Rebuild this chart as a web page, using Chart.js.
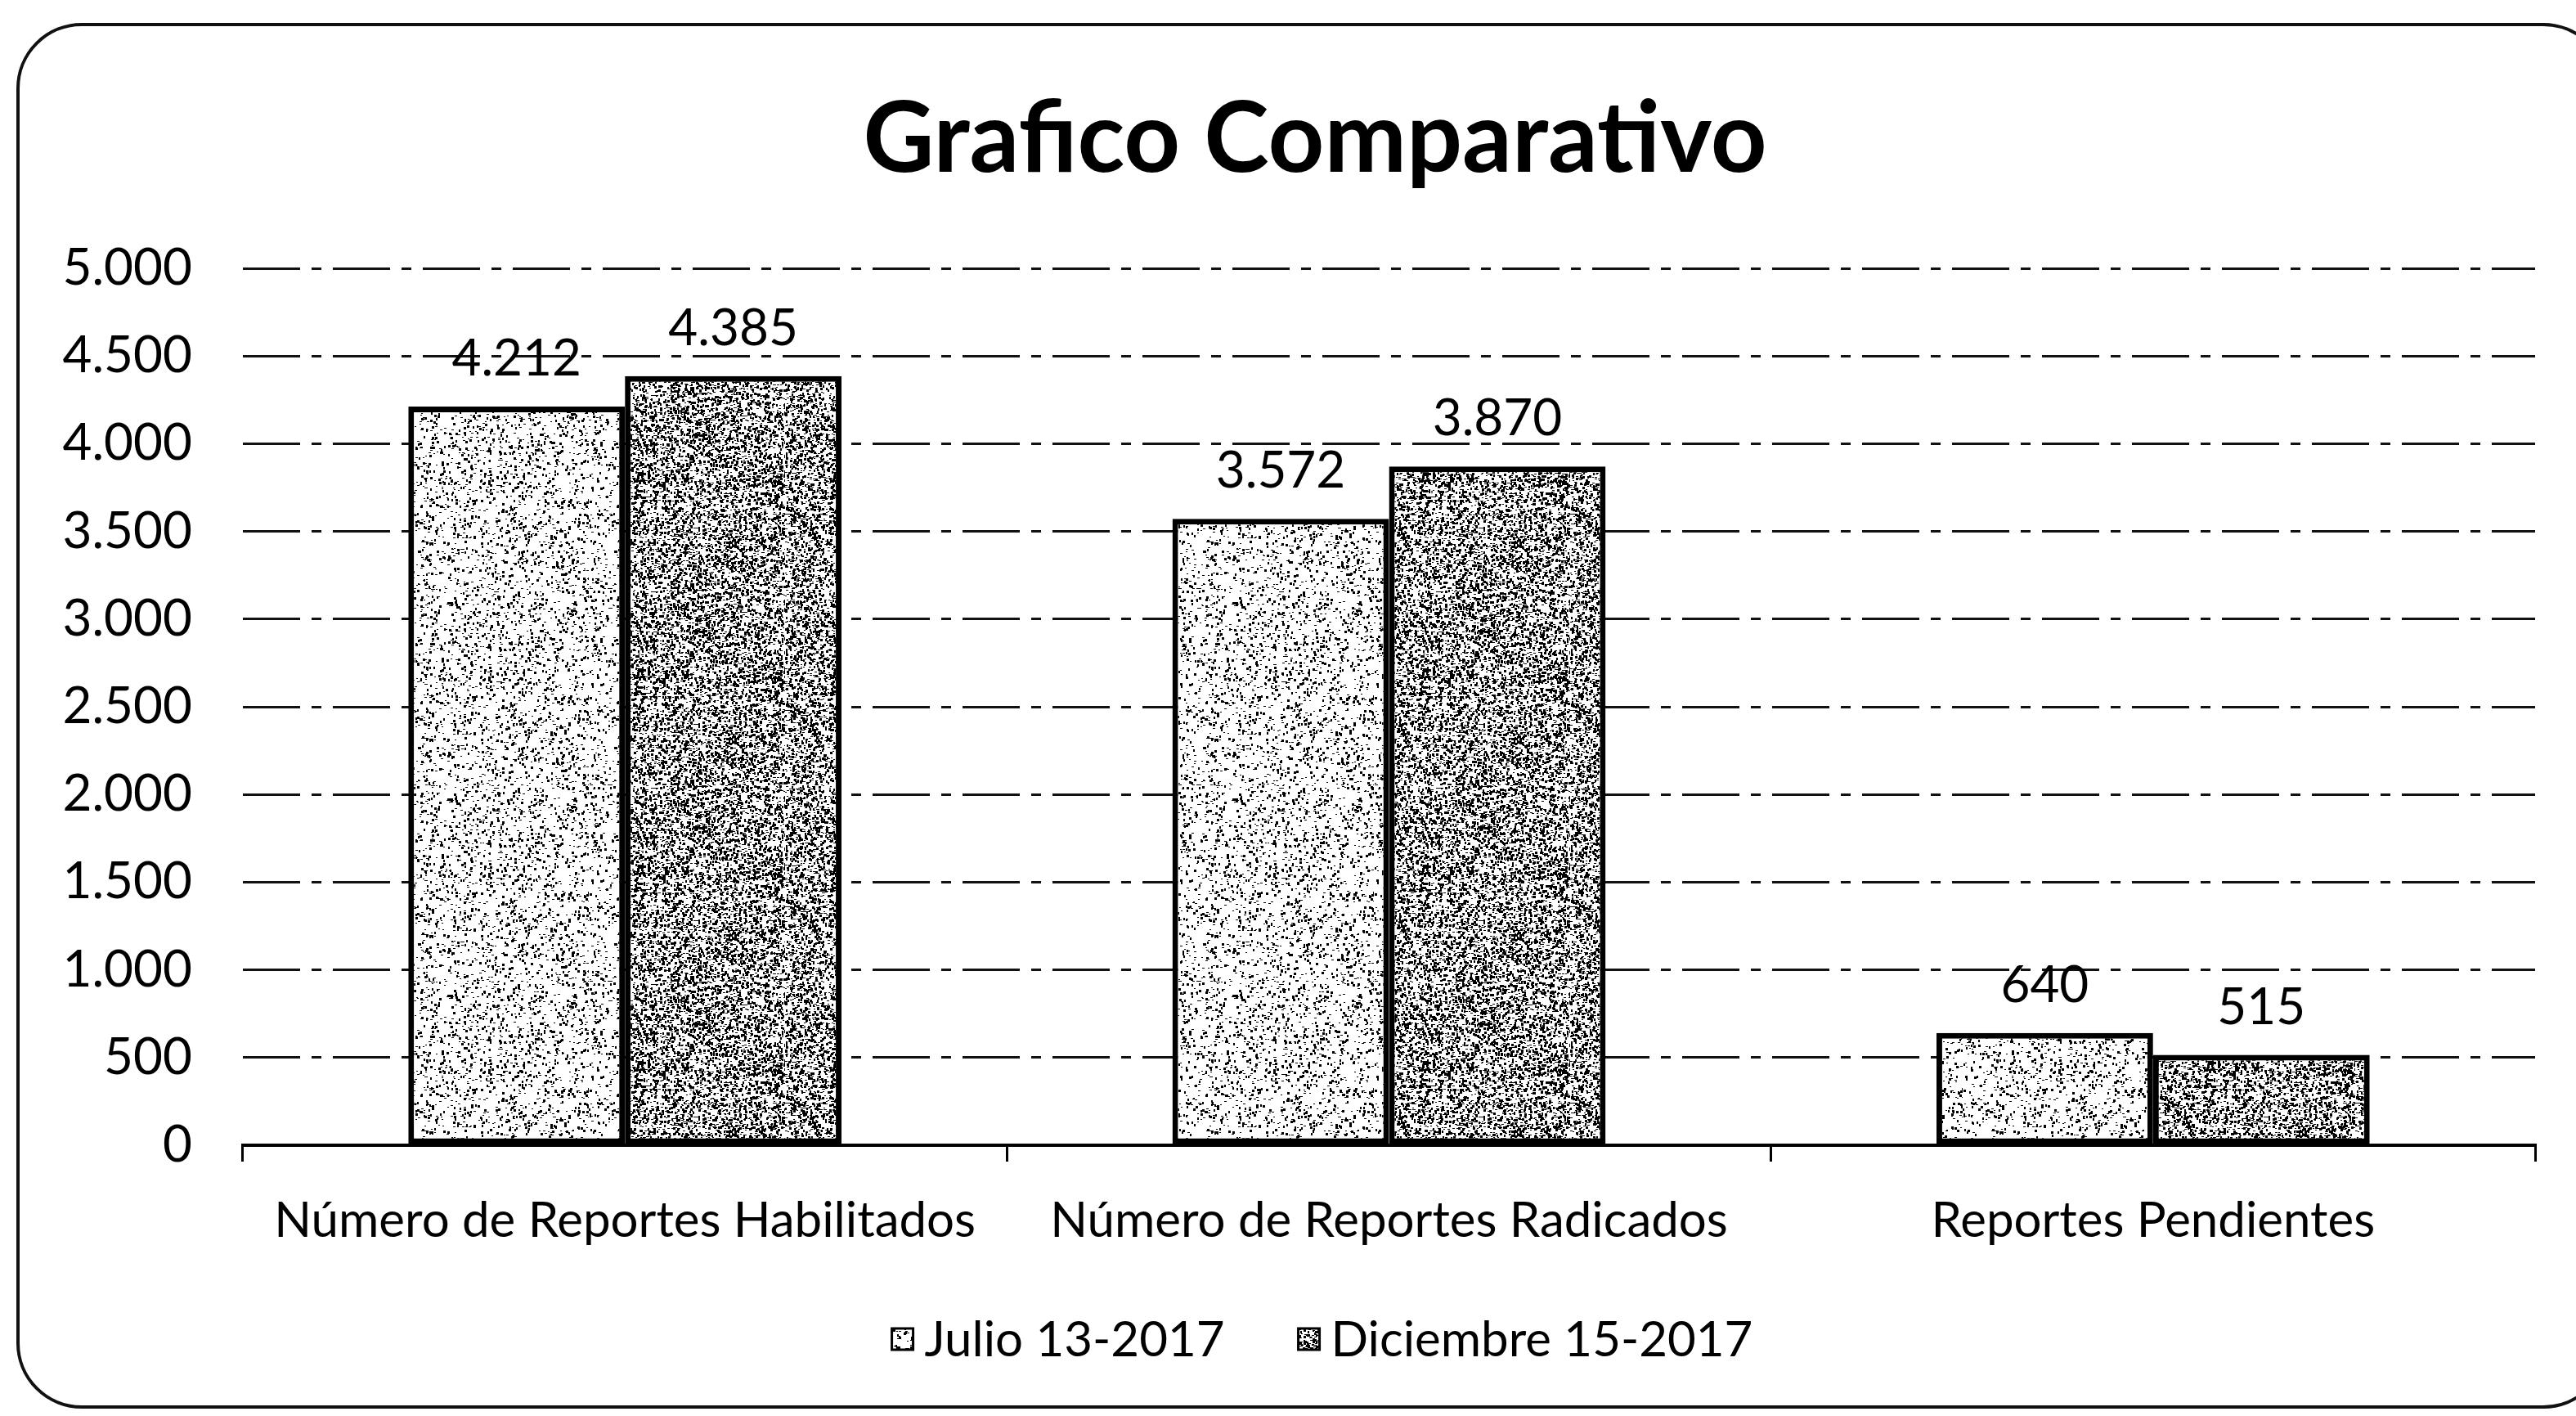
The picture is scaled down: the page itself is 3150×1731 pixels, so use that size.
<!DOCTYPE html>
<html>
<head>
<meta charset="utf-8">
<title>Grafico Comparativo</title>
<script src="https://cdn.jsdelivr.net/npm/chart.js@4.4.0/dist/chart.umd.min.js"></script>
<style>
  html, body { margin: 0; padding: 0; background: #fff; overflow: hidden; }
  #wrap { position: relative; width: 3150px; height: 1731px; }
  #frame {
    position: absolute; left: 20px; top: 28px; width: 3170px; height: 1694px;
    border: 4px solid #111; border-radius: 80px; box-sizing: border-box;
  }
  #chart { position: absolute; left: 0; top: 0; }
</style>
</head>
<body>
<div id="wrap">
  <div id="frame"></div>
  <canvas id="chart" width="3150" height="1731"></canvas>
</div>
<script>
// data
const categories = ['Número de Reportes Habilitados', 'Número de Reportes Radicados', 'Reportes Pendientes'];
const seriesNames = ['Julio 13-2017', 'Diciembre 15-2017'];
const julio = [4212, 3572, 640];
const diciembre = [4385, 3870, 515];
const yMin = 0, yMax = 5000, yStep = 500;
const chartTitle = 'Grafico Comparativo';

const FONT = 'Lato, "Open Sans", sans-serif';

// Spanish style thousands separator: 4212 -> 4.212
const fmt = n => String(n).replace(/\B(?=(\d{3})+(?!\d))/g, '.');

// stippled fill like the scanned bars (fixed seed, just a texture)
function stipple(density, seed) {
  const size = 240;
  const c = document.createElement('canvas');
  c.width = c.height = size;
  const g = c.getContext('2d');
  g.fillStyle = '#fff';
  g.fillRect(0, 0, size, size);
  g.fillStyle = '#000';
  let s = seed >>> 0;
  const rnd = () => (s = (Math.imul(s, 1664525) + 1013904223) >>> 0) / 4294967296;
  const n = Math.round(size * size * density / 5);
  for (let i = 0; i < n; i++) {
    const x = Math.floor(rnd() * size), y = Math.floor(rnd() * size);
    g.fillRect(x, y, rnd() < 0.5 ? 2 : 3, rnd() < 0.5 ? 1 : 3);
  }
  return g.createPattern(c, 'repeat');
}

const lightFill = stipple(0.16, 7);
const darkFill = stipple(0.5, 13);

// title and legend sit a bit right of the canvas centre in the original,
// so both are drawn by hand
const titlePlugin = {
  id: 'titlePlugin',
  afterDraw(chart) {
    const ctx = chart.ctx;
    ctx.save();
    ctx.font = 'bold 120px ' + FONT;
    ctx.fillStyle = '#000';
    ctx.textAlign = 'center';
    ctx.textBaseline = 'alphabetic';
    ctx.fillText(chartTitle, 1608, 210);
    ctx.restore();
  }
};

const legendPlugin = {
  id: 'legendPlugin',
  afterDraw(chart) {
    const ctx = chart.ctx;
    const box = 26, gap = 14, itemGap = 90, cx = 1617, cy = 1637;
    ctx.save();
    ctx.font = '60px ' + FONT;
    ctx.textBaseline = 'middle';
    ctx.textAlign = 'left';
    const items = chart.data.datasets.map(ds => ({ ds, w: box + gap + ctx.measureText(ds.label).width }));
    const total = items.reduce((a, it) => a + it.w, 0) + itemGap * (items.length - 1);
    let x = cx - total / 2;
    items.forEach(({ ds, w }) => {
      ctx.fillStyle = ds.backgroundColor;
      ctx.fillRect(x, cy - box / 2, box, box);
      ctx.lineWidth = 3;
      ctx.strokeStyle = '#000';
      ctx.strokeRect(x, cy - box / 2, box, box);
      ctx.fillStyle = '#000';
      ctx.fillText(ds.label, x + box + gap, cy + 2);
      x += w + itemGap;
    });
    ctx.restore();
  }
};

const valueLabels = {
  id: 'valueLabels',
  afterDatasetsDraw(chart) {
    const ctx = chart.ctx;
    ctx.save();
    ctx.font = '62px ' + FONT;
    ctx.fillStyle = '#000';
    ctx.textAlign = 'center';
    ctx.textBaseline = 'middle';
    chart.data.datasets.forEach((ds, i) => {
      chart.getDatasetMeta(i).data.forEach((bar, j) => {
        ctx.fillText(fmt(ds.data[j]), bar.x, bar.y - 58);
      });
    });
    ctx.restore();
  }
};

new Chart(document.getElementById('chart'), {
  type: 'bar',
  data: {
    labels: categories,
    datasets: [
      { label: seriesNames[0], data: julio, backgroundColor: lightFill, borderColor: '#000', borderWidth: 7, borderSkipped: false },
      { label: seriesNames[1], data: diciembre, backgroundColor: darkFill, borderColor: '#000', borderWidth: 7, borderSkipped: false }
    ]
  },
  options: {
    responsive: false,
    animation: false,
    layout: { padding: { top: 328, right: 50, bottom: 186, left: 0 } },
    datasets: { bar: { barPercentage: 1, categoryPercentage: 0.567 } },
    plugins: {
      title: { display: false },
      legend: { display: false },
      tooltip: { enabled: false }
    },
    scales: {
      x: {
        grid: { offset: true, drawOnChartArea: false, drawTicks: true, tickLength: 20, color: '#000', lineWidth: 3 },
        border: { display: true, color: '#000', width: 4 },
        ticks: { color: '#000', font: { family: FONT, size: 60 }, padding: 37, maxRotation: 0 },
        afterFit: s => { s.height = 145; }
      },
      y: {
        min: yMin,
        max: yMax,
        ticks: { stepSize: yStep, color: '#000', font: { family: FONT, size: 62 }, padding: 62, callback: v => fmt(v) },
        grid: { color: '#111', lineWidth: 3, drawTicks: false },
        border: { display: false, dash: [70, 14, 12, 14] },
        afterFit: s => { s.width = 297; }
      }
    }
  },
  plugins: [valueLabels, titlePlugin, legendPlugin]
});
</script>
</body>
</html>
